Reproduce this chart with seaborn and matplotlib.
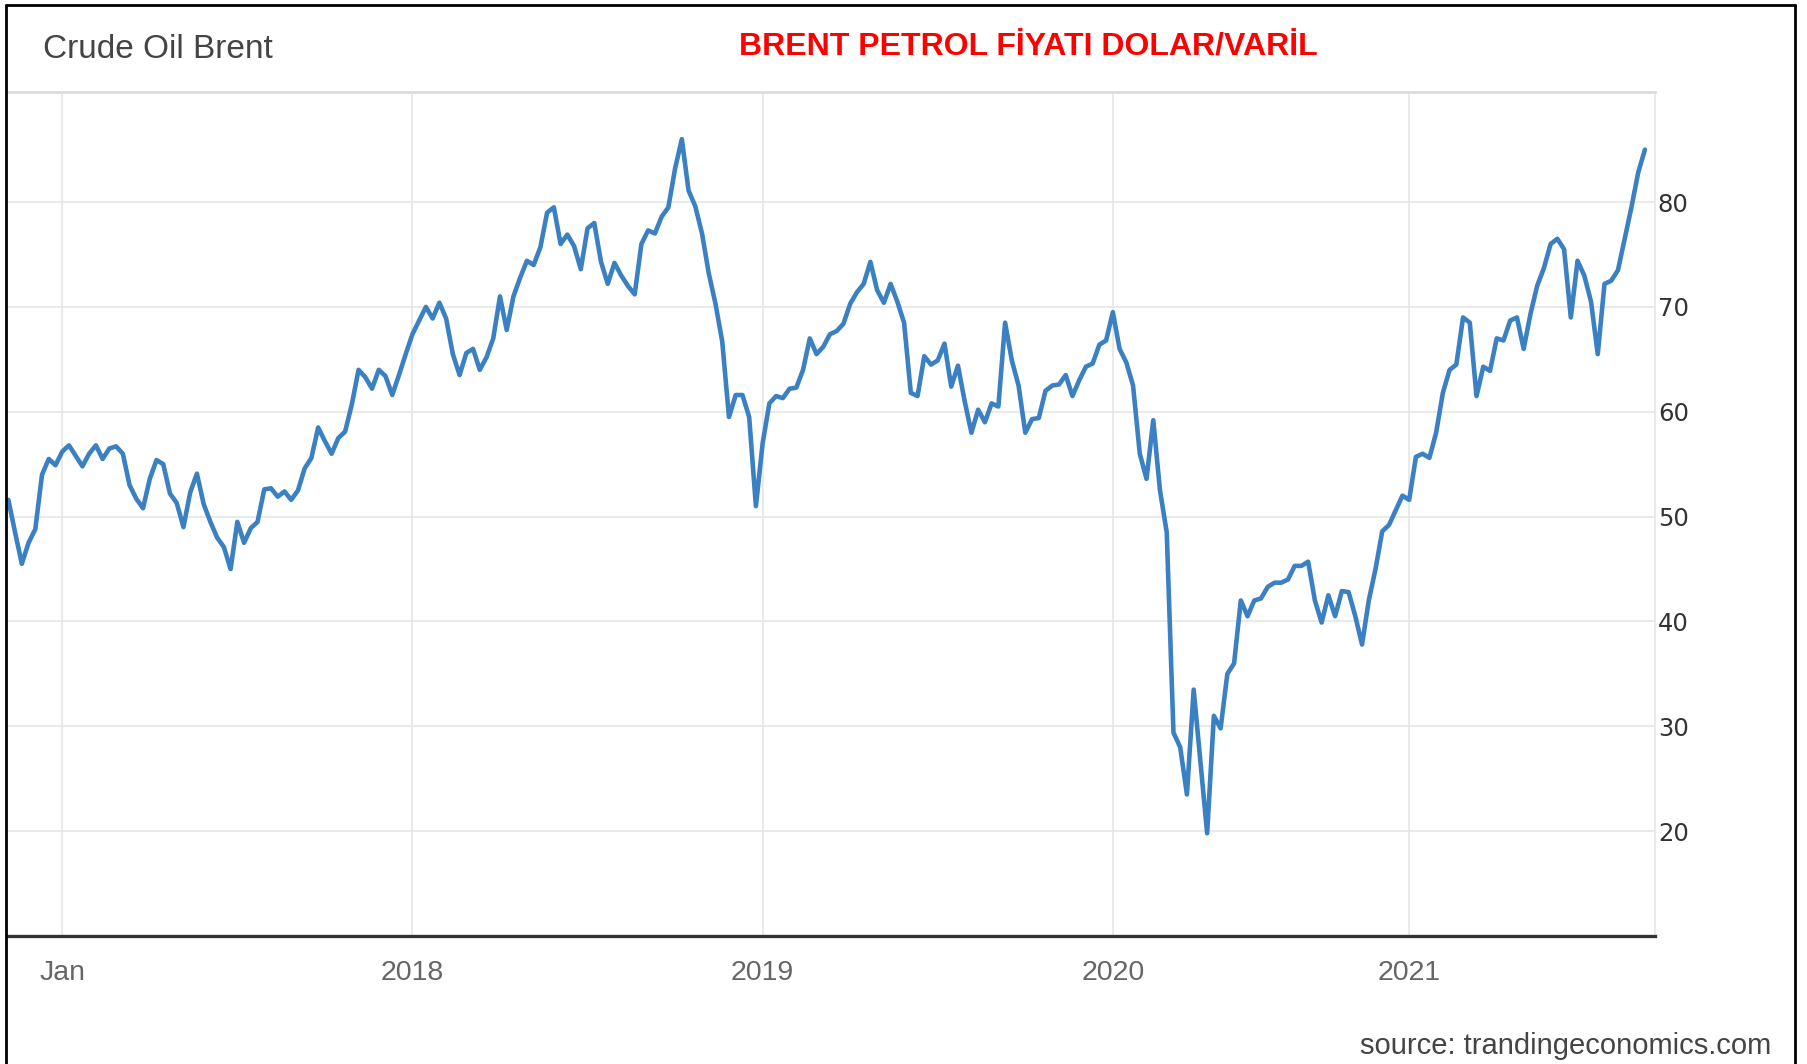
import numpy as np
import pandas as pd
import matplotlib
matplotlib.use("Agg")
import matplotlib.pyplot as plt
from matplotlib.lines import Line2D
import seaborn as sns

# Weekly Brent closes (USD/bbl)
brent = [
    51.6, 48.5, 45.5, 47.5, 48.8, 54.0, 55.5, 54.9, 56.2, 56.8,
    55.8, 54.8, 56.0, 56.8, 55.5, 56.5, 56.7, 56.0, 53.0, 51.7,
    50.8, 53.6, 55.4, 55.0, 52.2, 51.3, 49.0, 52.3, 54.1, 51.2,
    49.5, 48.0, 47.1, 45.0, 49.5, 47.5, 48.9, 49.5, 52.6, 52.7,
    51.9, 52.4, 51.6, 52.5, 54.6, 55.6, 58.5, 57.2, 56.0, 57.5,
    58.1, 60.7, 64.0, 63.3, 62.2, 64.0, 63.4, 61.6, 63.5, 65.5,
    67.4, 68.7, 70.0, 68.9, 70.4, 68.9, 65.5, 63.5, 65.6, 66.0,
    64.0, 65.2, 67.0, 71.0, 67.8, 71.0, 72.8, 74.4, 74.0, 75.7,
    79.0, 79.5, 76.0, 76.9, 75.8, 73.6, 77.5, 78.0, 74.3, 72.2,
    74.2, 73.0, 72.0, 71.2, 76.0, 77.3, 77.0, 78.6, 79.5, 83.2,
    86.0, 81.1, 79.6, 77.0, 73.2, 70.3, 66.7, 59.5, 61.6, 61.6,
    59.5, 51.0, 57.0, 60.8, 61.5, 61.3, 62.2, 62.3, 64.0, 67.0,
    65.5, 66.2, 67.4, 67.7, 68.4, 70.3, 71.4, 72.2, 74.3, 71.6,
    70.4, 72.2, 70.5, 68.5, 61.8, 61.5, 65.3, 64.5, 64.9, 66.5,
    62.4, 64.4, 61.0, 58.0, 60.2, 59.0, 60.8, 60.5, 68.5, 64.9,
    62.5, 58.0, 59.3, 59.4, 62.0, 62.5, 62.6, 63.5, 61.5, 63.0,
    64.3, 64.6, 66.4, 66.8, 69.5, 66.0, 64.7, 62.5, 56.0, 53.6,
    59.2, 52.5, 48.5, 29.4, 28.0, 23.5, 33.5, 26.6, 19.8, 31.0,
    29.8, 35.0, 36.0, 42.0, 40.5, 42.0, 42.2, 43.3, 43.7, 43.7,
    44.0, 45.3, 45.3, 45.7, 42.0, 39.9, 42.5, 40.5, 42.9, 42.8,
    40.5, 37.8, 42.0, 45.0, 48.6, 49.2, 50.6, 52.0, 51.6, 55.7,
    56.0, 55.6, 58.0, 61.8, 64.0, 64.5, 69.0, 68.5, 61.5, 64.3,
    63.9, 67.0, 66.8, 68.7, 69.0, 66.0, 69.3, 72.0, 73.7, 76.0,
    76.5, 75.5, 69.0, 74.4, 73.0, 70.5, 65.5, 72.2, 72.5, 73.5,
    76.5, 79.5, 82.8, 85.0,
]
tick_weeks = [8, 60, 112, 164, 208]
tick_labels = ["Jan", "2018", "2019", "2020", "2021"]
y_ticks = [20, 30, 40, 50, 60, 70, 80]

sns.set_style("white")
plt.rcParams["font.family"] = ["Liberation Sans", "DejaVu Sans"]

W, H = 1807, 1064
fig = plt.figure(figsize=(W / 100, H / 100), dpi=100)
fig.patch.set_facecolor("white")

left, right, top, bottom = 7, 1655, 92, 936
ax = fig.add_axes([left / W, 1 - bottom / H, (right - left) / W, (bottom - top) / H])

df = pd.DataFrame({"week": np.arange(len(brent)), "price": brent})
sns.lineplot(data=df, x="week", y="price", ax=ax, color="#3a80c2", linewidth=3.3)

ax.set_xlim(-0.2, 244.5)
ax.set_ylim(10, 90.5)
ax.set_xticks(tick_weeks)
ax.set_xticklabels(tick_labels)
ax.set_yticks(y_ticks)
ax.set_xlabel("")
ax.set_ylabel("")
ax.grid(True, color="#e6e6e6", linewidth=1.2)
ax.set_axisbelow(True)

ax.yaxis.tick_right()
ax.tick_params(axis="y", length=0, pad=2, labelsize=17.5, labelcolor="#333333")
for lbl in ax.get_yticklabels():
    lbl.set_fontfamily("DejaVu Sans")
ax.tick_params(axis="x", length=0, pad=17, labelsize=20.5, labelcolor="#666666")

ax.spines["left"].set_visible(False)
ax.spines["top"].set_color("#dcdcdc")
ax.spines["top"].set_linewidth(2)
ax.spines["right"].set_color("#e6e6e6")
ax.spines["right"].set_linewidth(1.2)
ax.spines["bottom"].set_color("#333333")
ax.spines["bottom"].set_linewidth(2.4)

# header texts
fig.text(43 / W, 1 - 50 / H, "Crude Oil Brent", fontsize=24, color="#444444",
         ha="left", va="center")
fig.text(1028 / W, 1 - 48 / H, "BRENT PETROL FİYATI DOLAR/VARİL", fontsize=23,
         fontweight="bold", color="#ff0000", ha="center", va="center")
fig.text(1771 / W, 1 - 1046 / H, "source: trandingeconomics.com", fontsize=21,
         color="#444444", ha="right", va="center")

# outer frame (left, top, right)
bx0, bx1, by1 = 6 / W, 1795 / W, 1 - 5 / H
for xs, ys in ([[bx0, bx0], [0, by1]], [[bx0, bx1], [by1, by1]], [[bx1, bx1], [0, by1]]):
    fig.add_artist(Line2D(xs, ys, transform=fig.transFigure, color="black", linewidth=2))

fig.savefig("out.png", dpi=100, facecolor="white")
